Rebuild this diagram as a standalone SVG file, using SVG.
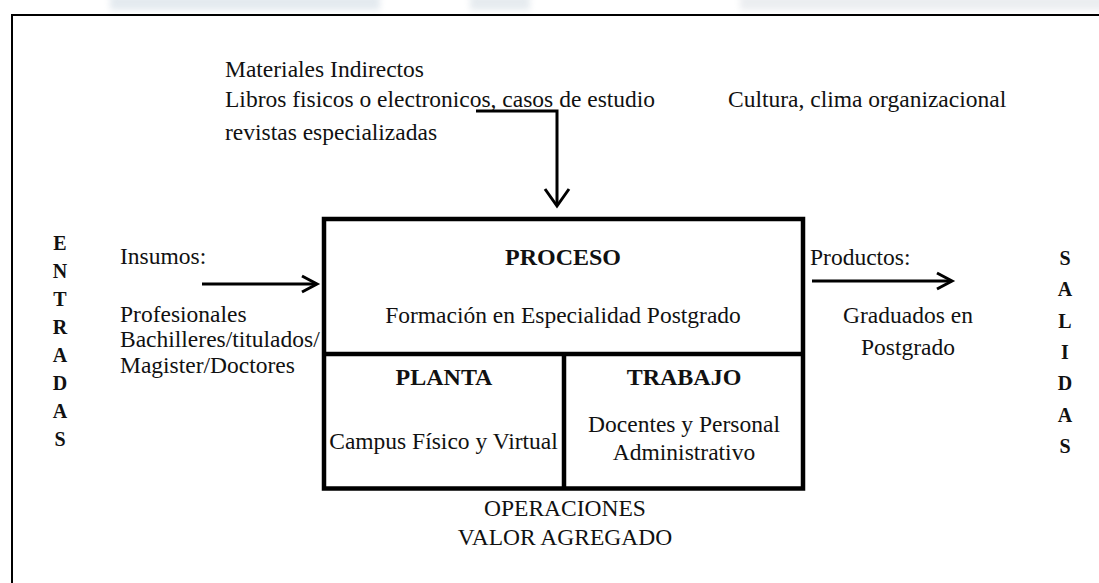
<svg xmlns="http://www.w3.org/2000/svg" width="1099" height="583" viewBox="0 0 1099 583">
  <defs>
    <style>
      text { font-family: "Liberation Serif", "Times New Roman", serif; fill: #111; }
      .t { font-size: 23.5px; }
      .b { font-size: 24px; font-weight: bold; }
      .v { font-size: 20px; font-weight: bold; text-anchor: middle; }
      .c { text-anchor: middle; }
      .box { fill: none; stroke: #000; stroke-width: 4.5; }
      .conn { fill: none; stroke: #000; stroke-width: 3; }
    </style>
    <filter id="blur" x="-20%" y="-50%" width="140%" height="200%">
      <feGaussianBlur stdDeviation="3"/>
    </filter>
  </defs>
  <rect width="1099" height="583" fill="#fff"/>
  <g id="watermark" filter="url(#blur)" opacity="0.5">
    <rect x="110" y="-6" width="270" height="16" fill="#c9d6e0"/>
    <rect x="470" y="-6" width="60" height="16" fill="#cdd8e0"/>
    <rect x="740" y="-6" width="380" height="16" fill="#d8dde2"/>
  </g>
  <rect id="frame" x="12" y="15" width="1100" height="600" fill="none" stroke="#000" stroke-width="2"/>

  <g id="materiales">
    <text class="t" x="225" y="77">Materiales Indirectos</text>
    <text class="t" x="225" y="107">Libros fisicos o electronicos, casos de estudio</text>
    <text class="t" x="225" y="140">revistas especializadas</text>
  </g>
  <g id="cultura">
    <text class="t" x="728" y="107">Cultura, clima organizacional</text>
  </g>

  <g id="entradas">
    <text class="v" x="60" y="250">E</text>
    <text class="v" x="60" y="278">N</text>
    <text class="v" x="60" y="306">T</text>
    <text class="v" x="60" y="334">R</text>
    <text class="v" x="60" y="362">A</text>
    <text class="v" x="60" y="390">D</text>
    <text class="v" x="60" y="418">A</text>
    <text class="v" x="60" y="446">S</text>
  </g>
  <g id="insumos">
    <text class="t" x="120" y="264">Insumos:</text>
    <text class="t" x="120" y="322">Profesionales</text>
    <text class="t" x="120" y="347">Bachilleres/titulados/</text>
    <text class="t" x="120" y="373">Magister/Doctores</text>
  </g>

  <g id="proceso">
    <rect class="box" x="324" y="219" width="479" height="269.5"/>
    <text class="b c" x="563" y="265">PROCESO</text>
    <text class="t c" x="563" y="323">Formación en Especialidad Postgrado</text>
  </g>
  <g id="planta">
    <line class="box" x1="324" y1="354" x2="803" y2="354"/>
    <text class="b c" x="444" y="385">PLANTA</text>
    <text class="t c" x="443.5" y="449">Campus Físico y Virtual</text>
  </g>
  <g id="trabajo">
    <line class="box" x1="564" y1="354" x2="564" y2="488"/>
    <text class="b c" x="684" y="385">TRABAJO</text>
    <text class="t c" x="684" y="432">Docentes y Personal</text>
    <text class="t c" x="684" y="460">Administrativo</text>
  </g>
  <g id="operaciones">
    <text class="t c" x="565" y="516">OPERACIONES</text>
    <text class="t c" x="565" y="545">VALOR AGREGADO</text>
  </g>

  <g id="productos">
    <text class="t" x="810" y="265">Productos:</text>
    <text class="t c" x="908" y="323">Graduados en</text>
    <text class="t c" x="908" y="355">Postgrado</text>
  </g>
  <g id="salidas">
    <text class="v" x="1065" y="265">S</text>
    <text class="v" x="1065" y="296">A</text>
    <text class="v" x="1065" y="328">L</text>
    <text class="v" x="1065" y="359">I</text>
    <text class="v" x="1065" y="390">D</text>
    <text class="v" x="1065" y="422">A</text>
    <text class="v" x="1065" y="453">S</text>
  </g>

  <g id="connectors">
    <polyline class="conn" points="476,111 557,111 557,205"/>
    <polyline class="conn" points="545,189 557,206 569,189"/>
    <line class="conn" x1="202" y1="284" x2="316" y2="284"/>
    <polyline class="conn" points="302,276 317,284 302,292"/>
    <line class="conn" x1="812" y1="281" x2="951" y2="281"/>
    <polyline class="conn" points="937,273 952,281 937,289"/>
  </g>
</svg>
